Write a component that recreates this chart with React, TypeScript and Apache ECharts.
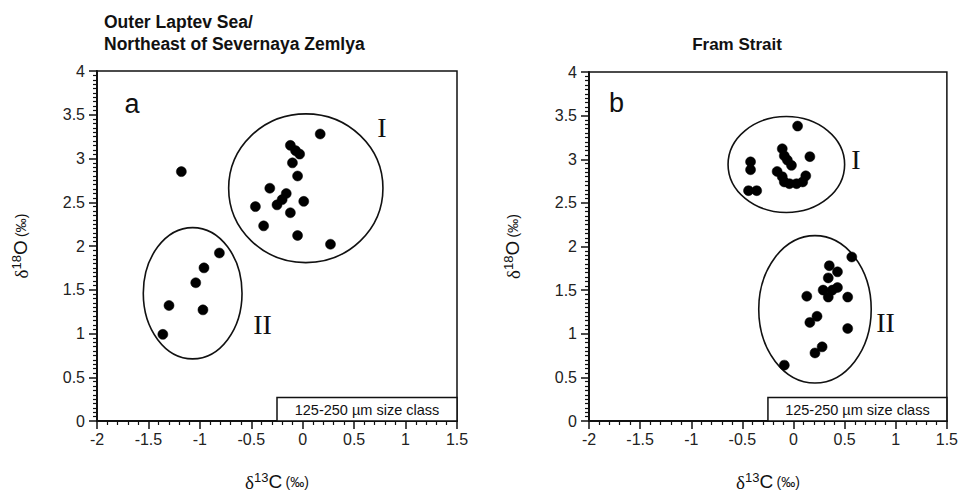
import React, { useEffect, useRef } from "react";
import * as echarts from "echarts";

// δ13C / δ18O pairs (‰), Outer Laptev Sea / NE of Severnaya Zemlya
const laptevGroupI: [number, number][] = [
  [0.17, 3.28], [-0.12, 3.15], [-0.07, 3.09], [-0.03, 3.05], [-0.1, 2.95],
  [-0.05, 2.8], [-0.32, 2.66], [-0.16, 2.6], [-0.2, 2.53], [-0.25, 2.47],
  [-0.46, 2.45], [0.01, 2.51], [-0.12, 2.38], [-0.38, 2.23], [-0.05, 2.12],
  [0.27, 2.02],
];
const laptevGroupII: [number, number][] = [
  [-0.81, 1.92], [-0.96, 1.75], [-1.04, 1.58], [-1.3, 1.32], [-0.97, 1.27],
  [-1.36, 0.99],
];
const laptevOther: [number, number][] = [[-1.18, 2.85]];

// δ13C / δ18O pairs (‰), Fram Strait
const framGroupI: [number, number][] = [
  [0.04, 3.38], [-0.42, 2.97], [-0.42, 2.88], [-0.44, 2.64], [-0.36, 2.64],
  [-0.11, 3.12], [-0.09, 3.04], [-0.06, 2.99], [-0.02, 2.93], [-0.16, 2.86],
  [-0.11, 2.8], [-0.09, 2.74], [-0.04, 2.72], [0.03, 2.72], [0.09, 2.74],
  [0.12, 2.81], [0.16, 3.03],
];
const framGroupII: [number, number][] = [
  [0.57, 1.88], [0.35, 1.78], [0.43, 1.71], [0.34, 1.64], [0.29, 1.5],
  [0.38, 1.5], [0.43, 1.53], [0.34, 1.42], [0.53, 1.42], [0.13, 1.43],
  [0.23, 1.2], [0.16, 1.13], [0.53, 1.06], [0.28, 0.85], [0.21, 0.78],
  [-0.09, 0.64],
];

// group outlines: [centre δ13C, centre δ18O, half-width, half-height]
const laptevEllipses: number[][] = [
  [0.03, 2.66, 0.75, 0.85],
  [-1.07, 1.46, 0.48, 0.75],
];
const framEllipses: number[][] = [
  [-0.07, 2.94, 0.57, 0.55],
  [0.21, 1.28, 0.55, 0.845],
];

// text annotations: [δ13C, δ18O, text, font]
const laptevLabels: [number, number, string, string][] = [
  [0.77, 3.36, "I", "serif"],
  [-0.39, 1.1, "II", "serif"],
  [-1.66, 3.62, "a", "sans"],
];
const framLabels: [number, number, string, string][] = [
  [0.61, 3.0, "I", "serif"],
  [0.9, 1.13, "II", "serif"],
  [-1.73, 3.65, "b", "sans"],
];

const sizeClassBox = [[-0.25, 0.27, 1.5, 0]];
const sizeClassText = "125-250 \u00b5m size class";

const xTicks = { min: -2, max: 1.5, interval: 0.5 };
const yTicks = { min: 0, max: 4, interval: 0.5 };

const SANS = "'Liberation Sans', Arial, Helvetica, sans-serif";
const SERIF = "'Liberation Serif', 'Times New Roman', serif";
const INK = "#111";

const axisRich = {
  d: { fontFamily: SERIF, fontSize: 19, color: INK, padding: [2, 0, 0, 0] },
  sup: { fontFamily: SANS, fontSize: 13, color: INK, padding: [0, 0, 8, 0] },
  m: { fontFamily: SANS, fontSize: 19, color: INK },
  s: { fontFamily: SANS, fontSize: 14, color: INK },
};

function xAxisFor(gridIndex: number) {
  return {
    type: "value",
    gridIndex,
    min: xTicks.min,
    max: xTicks.max,
    interval: xTicks.interval,
    name: "{d|\u03b4}{sup|13}{m|C} {s|(\u2030)}",
    nameLocation: "middle",
    nameGap: 50,
    nameTextStyle: { rich: axisRich },
    axisLine: { show: true, onZero: false, lineStyle: { color: INK, width: 2 } },
    axisTick: { show: true, inside: false, length: 8, lineStyle: { color: INK, width: 1.5 } },
    minorTick: { show: true, splitNumber: 5, length: 4, lineStyle: { color: INK, width: 1.2 } },
    splitLine: { show: false },
    axisLabel: { fontFamily: SANS, fontSize: 16, color: "#222", margin: 10 },
  };
}

function yAxisFor(gridIndex: number) {
  return {
    type: "value",
    gridIndex,
    min: yTicks.min,
    max: yTicks.max,
    interval: yTicks.interval,
    name: "{d|\u03b4}{sup|18}{m|O} {s|(\u2030)}",
    nameLocation: "middle",
    nameRotate: 90,
    nameGap: 66,
    nameTextStyle: { rich: axisRich },
    axisLine: { show: true, onZero: false, lineStyle: { color: INK, width: 2 } },
    axisTick: { show: true, inside: false, length: 8, lineStyle: { color: INK, width: 1.5 } },
    minorTick: { show: true, splitNumber: 10, length: 4, lineStyle: { color: INK, width: 1.2 } },
    splitLine: { show: false },
    axisLabel: { fontFamily: SANS, fontSize: 16, color: "#222", margin: 12 },
  };
}

function scatterFor(idx: number, data: [number, number][]) {
  return {
    type: "scatter",
    xAxisIndex: idx,
    yAxisIndex: idx,
    data,
    symbol: "circle",
    symbolSize: 10,
    itemStyle: { color: "#000", opacity: 1, borderColor: "#000", borderWidth: 0.5 },
    z: 5,
  };
}

function ellipsesFor(idx: number, data: number[][]) {
  return {
    type: "custom",
    xAxisIndex: idx,
    yAxisIndex: idx,
    data,
    encode: { x: 0, y: 1 },
    silent: true,
    z: 3,
    renderItem: (_params: any, api: any) => {
      const c = api.coord([api.value(0), api.value(1)]);
      const s = api.size([api.value(2), api.value(3)]);
      return {
        type: "ellipse",
        shape: { cx: c[0], cy: c[1], rx: s[0], ry: s[1] },
        style: { fill: "none", stroke: INK, lineWidth: 1.6 },
      };
    },
  };
}

function labelsFor(idx: number, labels: [number, number, string, string][]) {
  return {
    type: "custom",
    xAxisIndex: idx,
    yAxisIndex: idx,
    data: labels.map((l) => [l[0], l[1]]),
    encode: { x: 0, y: 1 },
    silent: true,
    z: 4,
    renderItem: (params: any, api: any) => {
      const l = labels[params.dataIndex];
      const c = api.coord([api.value(0), api.value(1)]);
      const serif = l[3] === "serif";
      return {
        type: "text",
        x: c[0],
        y: c[1],
        style: {
          text: l[2],
          fontFamily: serif ? SERIF : SANS,
          fontSize: serif ? 28 : 27,
          fill: INK,
          align: "center",
          verticalAlign: "middle",
        },
      };
    },
  };
}

function sizeBoxFor(idx: number) {
  return {
    type: "custom",
    xAxisIndex: idx,
    yAxisIndex: idx,
    data: sizeClassBox,
    encode: { x: [0, 2], y: [1, 3] },
    silent: true,
    z: 4,
    renderItem: (_params: any, api: any) => {
      const p1 = api.coord([api.value(0), api.value(1)]);
      const p2 = api.coord([api.value(2), api.value(3)]);
      return {
        type: "group",
        children: [
          {
            type: "rect",
            shape: { x: p1[0], y: p1[1], width: p2[0] - p1[0], height: p2[1] - p1[1] },
            style: { fill: "#fff", stroke: INK, lineWidth: 1.5 },
          },
          {
            type: "text",
            x: (p1[0] + p2[0]) / 2,
            y: (p1[1] + p2[1]) / 2 + 1,
            style: {
              text: sizeClassText,
              fontFamily: SANS,
              fontSize: 14.5,
              fill: INK,
              align: "center",
              verticalAlign: "middle",
            },
          },
        ],
      };
    },
  };
}

export default function App() {
  const ref = useRef<HTMLDivElement>(null);

  useEffect(() => {
    if (!ref.current) return;
    const chart = echarts.init(ref.current, null, { renderer: "svg" });
    chart.setOption({
      animation: false,
      backgroundColor: "#fff",
      grid: [
        { left: 97, top: 71, width: 360, height: 351, show: true, borderColor: INK, borderWidth: 1.5 },
        { left: 589, top: 72, width: 359, height: 351, show: true, borderColor: INK, borderWidth: 1.5 },
      ],
      xAxis: [xAxisFor(0), xAxisFor(1)],
      yAxis: [yAxisFor(0), yAxisFor(1)],
      graphic: [
        {
          type: "text",
          left: 104,
          top: 11,
          style: {
            text: "Outer Laptev Sea/\nNortheast of Severnaya Zemlya",
            fontFamily: SANS,
            fontWeight: "bold",
            fontSize: 17.5,
            lineHeight: 22,
            fill: INK,
          },
        },
        {
          type: "text",
          x: 737,
          y: 44,
          style: {
            text: "Fram Strait",
            fontFamily: SANS,
            fontWeight: "bold",
            fontSize: 17,
            fill: INK,
            align: "center",
            verticalAlign: "middle",
          },
        },
      ],
      series: [
        ellipsesFor(0, laptevEllipses),
        scatterFor(0, laptevGroupI),
        scatterFor(0, laptevGroupII),
        scatterFor(0, laptevOther),
        labelsFor(0, laptevLabels),
        sizeBoxFor(0),
        ellipsesFor(1, framEllipses),
        scatterFor(1, framGroupI),
        scatterFor(1, framGroupII),
        labelsFor(1, framLabels),
        sizeBoxFor(1),
      ],
    });
    return () => chart.dispose();
  }, []);

  return (
    <div
      ref={ref}
      style={{ position: "fixed", left: 0, top: 0, width: 961, height: 497, background: "#fff" }}
    />
  );
}
